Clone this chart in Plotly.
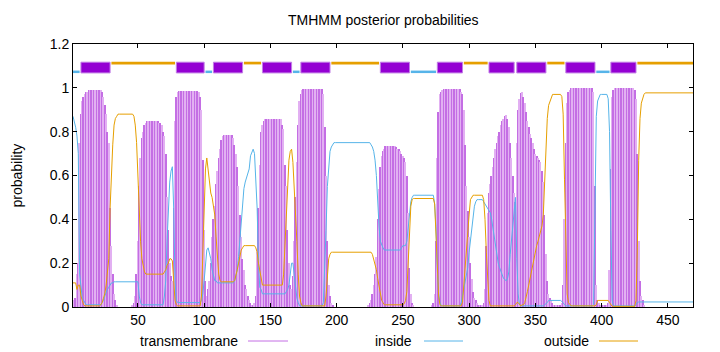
import plotly.graph_objects as go

# ---------------- data ----------------
# posterior probabilities per residue (residue 1..469)
tm_prob = [
    0.02, 0.03, 0.04, 0.15, 0.2, 0.75, 0.88, 0.94, 0.96, 0.97,
    0.98, 0.98, 0.99, 0.99, 0.99, 0.99, 0.99, 0.99, 0.99, 0.99,
    0.99, 0.99, 0.98, 0.96, 0.92, 0.88, 0.8, 0.75, 0.45, 0.28,
    0.15, 0.06, 0.03, 0.01, 0, 0, 0, 0, 0, 0,
    0, 0, 0, 0, 0, 0.01, 0.02, 0.05, 0.15, 0.3,
    0.55, 0.68, 0.77, 0.8, 0.83, 0.84, 0.85, 0.85, 0.85, 0.85,
    0.85, 0.85, 0.85, 0.85, 0.85, 0.84, 0.84, 0.83, 0.8, 0.78,
    0.7, 0.5, 0.35, 0.2, 0.14, 0.12, 0.45, 0.85, 0.96, 0.98,
    0.985, 0.985, 0.985, 0.985, 0.985, 0.985, 0.985, 0.985, 0.985, 0.985,
    0.985, 0.985, 0.985, 0.985, 0.985, 0.98, 0.96, 0.9, 0.67, 0.35,
    0.12, 0.05, 0.08, 0.12, 0.2, 0.32, 0.4, 0.46, 0.56, 0.62,
    0.68, 0.72, 0.76, 0.78, 0.787, 0.787, 0.787, 0.787, 0.787, 0.787,
    0.787, 0.77, 0.74, 0.7, 0.64, 0.55, 0.42, 0.32, 0.22, 0.17,
    0.1, 0.08, 0.05, 0.03, 0.02, 0.01, 0.01, 0.02, 0.05, 0.25,
    0.45, 0.65, 0.8, 0.83, 0.85, 0.86, 0.86, 0.86, 0.86, 0.86,
    0.86, 0.86, 0.86, 0.86, 0.86, 0.86, 0.86, 0.86, 0.83, 0.81,
    0.65, 0.55, 0.35, 0.2, 0.1, 0.08, 0.14, 0.3, 0.5, 0.66,
    0.83, 0.94, 0.97, 0.99, 0.995, 0.995, 0.995, 0.995, 0.995, 0.995,
    0.995, 0.995, 0.995, 0.995, 0.995, 0.995, 0.995, 0.995, 0.995, 0.97,
    0.82, 0.6, 0.3, 0.1, 0.05, 0.02, 0.01, 0, 0, 0,
    0, 0, 0, 0, 0, 0, 0, 0, 0, 0,
    0, 0, 0, 0, 0, 0, 0, 0, 0, 0,
    0, 0, 0, 0.01, 0.02, 0.03, 0.06, 0.1, 0.15, 0.23,
    0.4, 0.54, 0.64, 0.69, 0.71, 0.72, 0.735, 0.735, 0.735, 0.735,
    0.735, 0.735, 0.735, 0.735, 0.73, 0.72, 0.72, 0.71, 0.7, 0.69,
    0.68, 0.66, 0.6, 0.43, 0.18, 0.06, 0.02, 0.01, 0, 0,
    0, 0, 0, 0, 0, 0, 0, 0, 0, 0,
    0, 0.01, 0.02, 0.06, 0.3, 0.68, 0.89, 0.97, 0.98, 0.99,
    0.995, 0.995, 0.995, 0.995, 0.995, 0.995, 0.995, 0.995, 0.995, 0.995,
    0.995, 0.995, 0.995, 0.98, 0.97, 0.9, 0.74, 0.55, 0.44, 0.32,
    0.2, 0.13, 0.07, 0.04, 0.03, 0.02, 0.01, 0.01, 0.01, 0.01,
    0.02, 0.08, 0.28, 0.43, 0.52, 0.56, 0.6, 0.64, 0.68, 0.72,
    0.75, 0.78, 0.8, 0.83, 0.85, 0.86, 0.87, 0.875, 0.86, 0.82,
    0.75, 0.68, 0.6, 0.52, 0.48, 0.75, 0.9, 0.95, 0.975, 0.98,
    0.96, 0.93, 0.89, 0.85, 0.82, 0.79, 0.77, 0.75, 0.72, 0.7,
    0.69, 0.68, 0.67, 0.66, 0.62, 0.57, 0.42, 0.24, 0.12, 0.06,
    0.04, 0.03, 0.02, 0.01, 0.01, 0.01, 0.01, 0.01, 0.01, 0.02,
    0.1, 0.4, 0.75, 0.93, 0.98, 0.99, 0.998, 0.998, 0.998, 0.998,
    0.998, 0.998, 0.998, 0.998, 0.998, 0.998, 0.998, 0.998, 0.998, 0.998,
    0.998, 0.998, 0.998, 0.98, 0.55, 0.1, 0.03, 0.02, 0.01, 0.01,
    0.01, 0.01, 0.01, 0.01, 0.02, 0.17, 0.63, 0.96, 0.99, 0.999,
    0.999, 0.999, 0.999, 0.999, 0.999, 0.999, 0.999, 0.999, 0.999, 0.999,
    0.999, 0.999, 0.999, 0.999, 0.99, 0.95, 0.7, 0.3, 0.12, 0.05,
    0.03, 0.01, 0, 0, 0, 0, 0, 0, 0, 0,
    0, 0, 0, 0, 0, 0, 0, 0, 0, 0,
    0, 0, 0, 0, 0, 0, 0, 0, 0, 0,
    0, 0, 0, 0, 0, 0, 0, 0, 0,
]

inside_prob = [
    0.87, 0.85, 0.82, 0.78, 0.7, 0.15, 0.08, 0.04, 0.03, 0.02,
    0.01, 0.01, 0.01, 0.01, 0.01, 0.01, 0.01, 0.01, 0.01, 0.01,
    0.01, 0.01, 0.02, 0.03, 0.05, 0.07, 0.08, 0.09, 0.1, 0.11,
    0.11, 0.115, 0.115, 0.115, 0.115, 0.115, 0.115, 0.115, 0.115, 0.115,
    0.115, 0.115, 0.115, 0.115, 0.115, 0.115, 0.115, 0.115, 0.115, 0.115,
    0.05, 0.02, 0.01, 0.01, 0.01, 0.01, 0.01, 0.01, 0.01, 0.01,
    0.01, 0.01, 0.01, 0.01, 0.01, 0.01, 0.01, 0.01, 0.01, 0.05,
    0.12, 0.3, 0.45, 0.57, 0.62, 0.64, 0.45, 0.12, 0.03, 0.02,
    0.02, 0.02, 0.02, 0.02, 0.02, 0.02, 0.02, 0.02, 0.02, 0.02,
    0.02, 0.02, 0.02, 0.02, 0.02, 0.02, 0.02, 0.03, 0.06, 0.12,
    0.2, 0.26, 0.27, 0.25, 0.22, 0.17, 0.14, 0.12, 0.12, 0.11,
    0.11, 0.11, 0.11, 0.11, 0.11, 0.11, 0.11, 0.11, 0.11, 0.11,
    0.11, 0.11, 0.12, 0.14, 0.17, 0.23, 0.3, 0.4, 0.48, 0.54,
    0.57, 0.59, 0.61, 0.63, 0.69, 0.71, 0.72, 0.7, 0.6, 0.45,
    0.2, 0.09, 0.08, 0.06, 0.06, 0.06, 0.06, 0.06, 0.06, 0.06,
    0.06, 0.06, 0.06, 0.06, 0.06, 0.06, 0.06, 0.06, 0.06, 0.06,
    0.06, 0.07, 0.08, 0.1, 0.15, 0.2, 0.2, 0.15, 0.08, 0.04,
    0.02, 0.005, 0.005, 0.005, 0.005, 0.005, 0.005, 0.005, 0.005, 0.005,
    0.005, 0.005, 0.005, 0.005, 0.005, 0.005, 0.005, 0.005, 0.005, 0.02,
    0.15, 0.35, 0.55, 0.66, 0.71, 0.73, 0.74, 0.75, 0.75, 0.75,
    0.75, 0.75, 0.75, 0.75, 0.75, 0.75, 0.75, 0.75, 0.75, 0.75,
    0.75, 0.75, 0.75, 0.75, 0.75, 0.75, 0.75, 0.75, 0.75, 0.75,
    0.75, 0.75, 0.75, 0.75, 0.75, 0.74, 0.73, 0.71, 0.67, 0.6,
    0.47, 0.37, 0.3, 0.28, 0.27, 0.26, 0.26, 0.26, 0.26, 0.26,
    0.26, 0.26, 0.26, 0.26, 0.26, 0.26, 0.26, 0.26, 0.27, 0.28,
    0.28, 0.28, 0.3, 0.37, 0.44, 0.48, 0.5, 0.51, 0.51, 0.51,
    0.51, 0.51, 0.51, 0.51, 0.51, 0.51, 0.51, 0.51, 0.51, 0.51,
    0.51, 0.51, 0.51, 0.47, 0.36, 0.17, 0.06, 0.02, 0.005, 0.005,
    0.005, 0.005, 0.005, 0.005, 0.005, 0.005, 0.005, 0.005, 0.005, 0.005,
    0.005, 0.005, 0.005, 0.02, 0.05, 0.08, 0.11, 0.15, 0.18, 0.25,
    0.3, 0.36, 0.42, 0.46, 0.48, 0.49, 0.49, 0.49, 0.49, 0.49,
    0.48, 0.47, 0.46, 0.45, 0.44, 0.43, 0.4, 0.36, 0.31, 0.27,
    0.23, 0.2, 0.18, 0.16, 0.14, 0.13, 0.125, 0.12, 0.13, 0.16,
    0.24, 0.31, 0.38, 0.46, 0.5, 0.22, 0.06, 0.01, 0.005, 0.005,
    0.005, 0.005, 0.005, 0.005, 0.005, 0.005, 0.005, 0.005, 0.005, 0.005,
    0.005, 0.005, 0.005, 0.005, 0.005, 0.005, 0.01, 0.015, 0.02, 0.03,
    0.03, 0.03, 0.03, 0.03, 0.03, 0.03, 0.03, 0.03, 0.03, 0.025,
    0.02, 0.01, 0.005, 0.005, 0.005, 0.005, 0.005, 0.005, 0.005, 0.005,
    0.005, 0.005, 0.005, 0.005, 0.005, 0.005, 0.005, 0.005, 0.005, 0.005,
    0.005, 0.005, 0.005, 0.01, 0.43, 0.87, 0.94, 0.96, 0.97, 0.97,
    0.97, 0.97, 0.97, 0.97, 0.95, 0.8, 0.35, 0.03, 0.005, 0.005,
    0.005, 0.005, 0.005, 0.005, 0.005, 0.005, 0.005, 0.005, 0.005, 0.005,
    0.005, 0.005, 0.005, 0.005, 0.005, 0.01, 0.02, 0.023, 0.023, 0.023,
    0.023, 0.023, 0.023, 0.023, 0.023, 0.023, 0.023, 0.023, 0.023, 0.023,
    0.023, 0.023, 0.023, 0.023, 0.023, 0.023, 0.023, 0.023, 0.023, 0.023,
    0.023, 0.023, 0.023, 0.023, 0.023, 0.023, 0.023, 0.023, 0.023, 0.023,
    0.023, 0.023, 0.023, 0.023, 0.023, 0.023, 0.023, 0.023, 0.023,
]

outside_prob = [
    0.11, 0.11, 0.11, 0.08, 0.1, 0.1, 0.05, 0.03, 0.01, 0.005,
    0.005, 0.005, 0.005, 0.005, 0.005, 0.005, 0.005, 0.005, 0.005, 0.005,
    0.005, 0.01, 0.02, 0.04, 0.06, 0.1, 0.15, 0.22, 0.45, 0.62,
    0.74, 0.83, 0.86, 0.87, 0.88, 0.88, 0.88, 0.88, 0.88, 0.88,
    0.88, 0.88, 0.88, 0.88, 0.88, 0.88, 0.87, 0.83, 0.75, 0.6,
    0.4, 0.3, 0.22, 0.18, 0.16, 0.15, 0.15, 0.15, 0.15, 0.15,
    0.15, 0.15, 0.15, 0.15, 0.15, 0.15, 0.15, 0.15, 0.15, 0.16,
    0.17, 0.19, 0.2, 0.22, 0.22, 0.21, 0.1, 0.03, 0.01, 0.005,
    0.005, 0.005, 0.005, 0.005, 0.005, 0.005, 0.005, 0.005, 0.005, 0.005,
    0.005, 0.005, 0.005, 0.005, 0.005, 0.005, 0.005, 0.05, 0.25, 0.5,
    0.63, 0.68, 0.62, 0.56, 0.52, 0.5, 0.46, 0.42, 0.32, 0.22,
    0.15, 0.12, 0.115, 0.115, 0.115, 0.115, 0.115, 0.115, 0.115, 0.115,
    0.115, 0.115, 0.12, 0.14, 0.17, 0.2, 0.24, 0.26, 0.27, 0.28,
    0.28, 0.28, 0.28, 0.28, 0.28, 0.28, 0.28, 0.28, 0.27, 0.25,
    0.2, 0.16, 0.12, 0.1, 0.1, 0.1, 0.1, 0.1, 0.1, 0.1,
    0.1, 0.1, 0.1, 0.1, 0.1, 0.1, 0.1, 0.1, 0.1, 0.15,
    0.3, 0.45, 0.6, 0.67, 0.71, 0.72, 0.66, 0.55, 0.42, 0.3,
    0.15, 0.05, 0.02, 0.005, 0.005, 0.005, 0.005, 0.005, 0.005, 0.005,
    0.005, 0.005, 0.005, 0.005, 0.005, 0.005, 0.005, 0.005, 0.005, 0.005,
    0.005, 0.05, 0.15, 0.22, 0.24, 0.25, 0.25, 0.25, 0.25, 0.25,
    0.25, 0.25, 0.25, 0.25, 0.25, 0.25, 0.25, 0.25, 0.25, 0.25,
    0.25, 0.25, 0.25, 0.25, 0.25, 0.25, 0.25, 0.25, 0.25, 0.25,
    0.25, 0.25, 0.25, 0.25, 0.25, 0.25, 0.24, 0.22, 0.2, 0.17,
    0.13, 0.09, 0.06, 0.03, 0.02, 0.01, 0.01, 0.01, 0.01, 0.01,
    0.01, 0.01, 0.01, 0.01, 0.01, 0.01, 0.01, 0.01, 0.01, 0.01,
    0.015, 0.03, 0.07, 0.2, 0.38, 0.46, 0.49, 0.495, 0.495, 0.495,
    0.495, 0.495, 0.495, 0.495, 0.495, 0.495, 0.495, 0.495, 0.495, 0.495,
    0.495, 0.495, 0.495, 0.47, 0.33, 0.15, 0.05, 0.01, 0.005, 0.005,
    0.005, 0.005, 0.005, 0.005, 0.005, 0.005, 0.005, 0.005, 0.005, 0.005,
    0.005, 0.005, 0.005, 0.005, 0.02, 0.1, 0.19, 0.3, 0.36, 0.42,
    0.49, 0.5, 0.51, 0.51, 0.51, 0.51, 0.51, 0.51, 0.51, 0.51,
    0.49, 0.4, 0.25, 0.11, 0.03, 0.005, 0.005, 0.005, 0.005, 0.005,
    0.005, 0.005, 0.005, 0.005, 0.005, 0.005, 0.005, 0.005, 0.005, 0.005,
    0.005, 0.005, 0.005, 0.005, 0.01, 0.02, 0.02, 0.01, 0.005, 0.01,
    0.01, 0.02, 0.04, 0.07, 0.1, 0.13, 0.16, 0.2, 0.23, 0.26,
    0.28, 0.3, 0.32, 0.34, 0.37, 0.42, 0.57, 0.74, 0.86, 0.92,
    0.94, 0.96, 0.97, 0.97, 0.97, 0.97, 0.97, 0.97, 0.97, 0.96,
    0.88, 0.58, 0.24, 0.06, 0.02, 0.01, 0.005, 0.005, 0.005, 0.005,
    0.005, 0.005, 0.005, 0.005, 0.005, 0.005, 0.005, 0.005, 0.005, 0.005,
    0.005, 0.005, 0.005, 0.005, 0.005, 0.01, 0.03, 0.03, 0.03, 0.03,
    0.03, 0.03, 0.03, 0.03, 0.03, 0.02, 0.01, 0.003, 0.003, 0.003,
    0.003, 0.003, 0.003, 0.003, 0.003, 0.003, 0.003, 0.003, 0.003, 0.003,
    0.003, 0.003, 0.003, 0.003, 0.003, 0.03, 0.27, 0.67, 0.86, 0.93,
    0.955, 0.97, 0.977, 0.977, 0.977, 0.977, 0.977, 0.977, 0.977, 0.977,
    0.977, 0.977, 0.977, 0.977, 0.977, 0.977, 0.977, 0.977, 0.977, 0.977,
    0.977, 0.977, 0.977, 0.977, 0.977, 0.977, 0.977, 0.977, 0.977, 0.977,
    0.977, 0.977, 0.977, 0.977, 0.977, 0.977, 0.977, 0.977, 0.977,
]

residues = list(range(1, len(tm_prob) + 1))

# predicted topology (start, end, kind)
seg_start = [1, 7, 30, 79, 101, 107, 130, 144, 167, 173, 196, 233, 256, 276,
             296, 315, 336, 359, 373, 396, 407, 427]
seg_end = [6, 29, 78, 100, 106, 129, 143, 166, 172, 195, 232, 255, 275, 295,
           314, 334, 358, 372, 395, 406, 426, 469]
seg_kind = ["inside", "TMhelix", "outside", "TMhelix", "inside", "TMhelix",
            "outside", "TMhelix", "inside", "TMhelix", "outside", "TMhelix",
            "inside", "TMhelix", "outside", "TMhelix", "TMhelix", "outside",
            "TMhelix", "inside", "TMhelix", "outside"]

legend_labels = ["transmembrane", "inside", "outside"]
title_text = "TMHMM posterior probabilities"
y_label = "probability"

# ---------------- styling ----------------
C_TM = "#9400d3"
C_IN = "#56b4e9"
C_OUT = "#e69f00"
STRIPE_DARK = "#c46ee4"
STRIPE_LIGHT = "#e2b0f2"
FONT = "Liberation Sans, Arial, sans-serif"

fig = go.Figure()

bar_colors = [STRIPE_DARK if i % 2 == 0 else STRIPE_LIGHT for i in range(len(residues))]
fig.add_trace(go.Bar(x=residues, y=tm_prob, width=1.0,
                     marker=dict(color=bar_colors, line=dict(width=0)),
                     showlegend=False, hoverinfo="skip"))
fig.add_trace(go.Scatter(x=residues, y=inside_prob, mode="lines",
                         line=dict(color=C_IN, width=1), showlegend=False))
fig.add_trace(go.Scatter(x=residues, y=outside_prob, mode="lines",
                         line=dict(color=C_OUT, width=1), showlegend=False))

shapes = []
for s, e, k in zip(seg_start, seg_end, seg_kind):
    if k == "TMhelix":
        shapes.append(dict(type="rect", xref="x", yref="y", x0=s, x1=e,
                           y0=1.068, y1=1.117, fillcolor=C_TM,
                           line=dict(color="#c27ee6", width=1), layer="above"))
    elif k == "inside":
        shapes.append(dict(type="line", xref="x", yref="y", x0=s, x1=e,
                           y0=1.073, y1=1.073, line=dict(color=C_IN, width=2.5)))
    else:
        shapes.append(dict(type="line", xref="x", yref="y", x0=s, x1=e,
                           y0=1.113, y1=1.113, line=dict(color=C_OUT, width=2.7)))

# legend (gnuplot style: text then sample line), positioned in pixels
W, H = 720, 352
leg_text_right = [240, 414, 591]
leg_line = [(248, 288), (424, 463), (599, 638)]
leg_colors = [STRIPE_DARK, C_IN, C_OUT]
leg_y = 341
annotations = []
for lab, xr, (l0, l1), col in zip(legend_labels, leg_text_right, leg_line, leg_colors):
    annotations.append(dict(text=lab, xref="paper", yref="paper",
                            x=(xr - 73) / 620, y=(307 - leg_y) / 263,
                            xanchor="right", yanchor="middle", showarrow=False,
                            font=dict(family=FONT, size=14, color="#000000")))
    shapes.append(dict(type="line", xref="paper", yref="paper",
                       x0=(l0 - 73) / 620, x1=(l1 - 73) / 620,
                       y0=(307 - leg_y) / 263, y1=(307 - leg_y) / 263,
                       line=dict(color=col, width=1)))

annotations.append(dict(text=y_label, xref="paper", yref="paper",
                        x=(16 - 73) / 620, y=0.5, textangle=-90,
                        xanchor="center", yanchor="middle", showarrow=False,
                        font=dict(family=FONT, size=14, color="#000000")))
annotations.append(dict(text=title_text, xref="paper", yref="paper",
                        x=0.5, y=(307 - 20) / 263, xanchor="center",
                        yanchor="middle", showarrow=False,
                        font=dict(family=FONT, size=14, color="#000000")))

fig.update_layout(
    width=W, height=H,
    margin=dict(l=73, r=27, t=44, b=45, pad=0),
    paper_bgcolor="white", plot_bgcolor="white",
    bargap=0, barmode="overlay",
    font=dict(family=FONT, size=14, color="#000000"),
    shapes=shapes, annotations=annotations,
    showlegend=False,
    xaxis=dict(range=[1, 469], tickmode="linear", tick0=0, dtick=50,
               ticks="inside", ticklen=4, tickcolor="#000000",
               showline=True, linecolor="#000000", linewidth=1, mirror="ticks",
               showgrid=False, zeroline=False,
               tickfont=dict(family=FONT, size=14)),
    yaxis=dict(range=[0, 1.2], tickmode="linear", tick0=0, dtick=0.2,
               ticks="inside", ticklen=4, tickcolor="#000000",
               showline=True, linecolor="#000000", linewidth=1, mirror="ticks",
               showgrid=False, zeroline=False,
               tickfont=dict(family=FONT, size=14)),
)

fig.write_html("out.html")
